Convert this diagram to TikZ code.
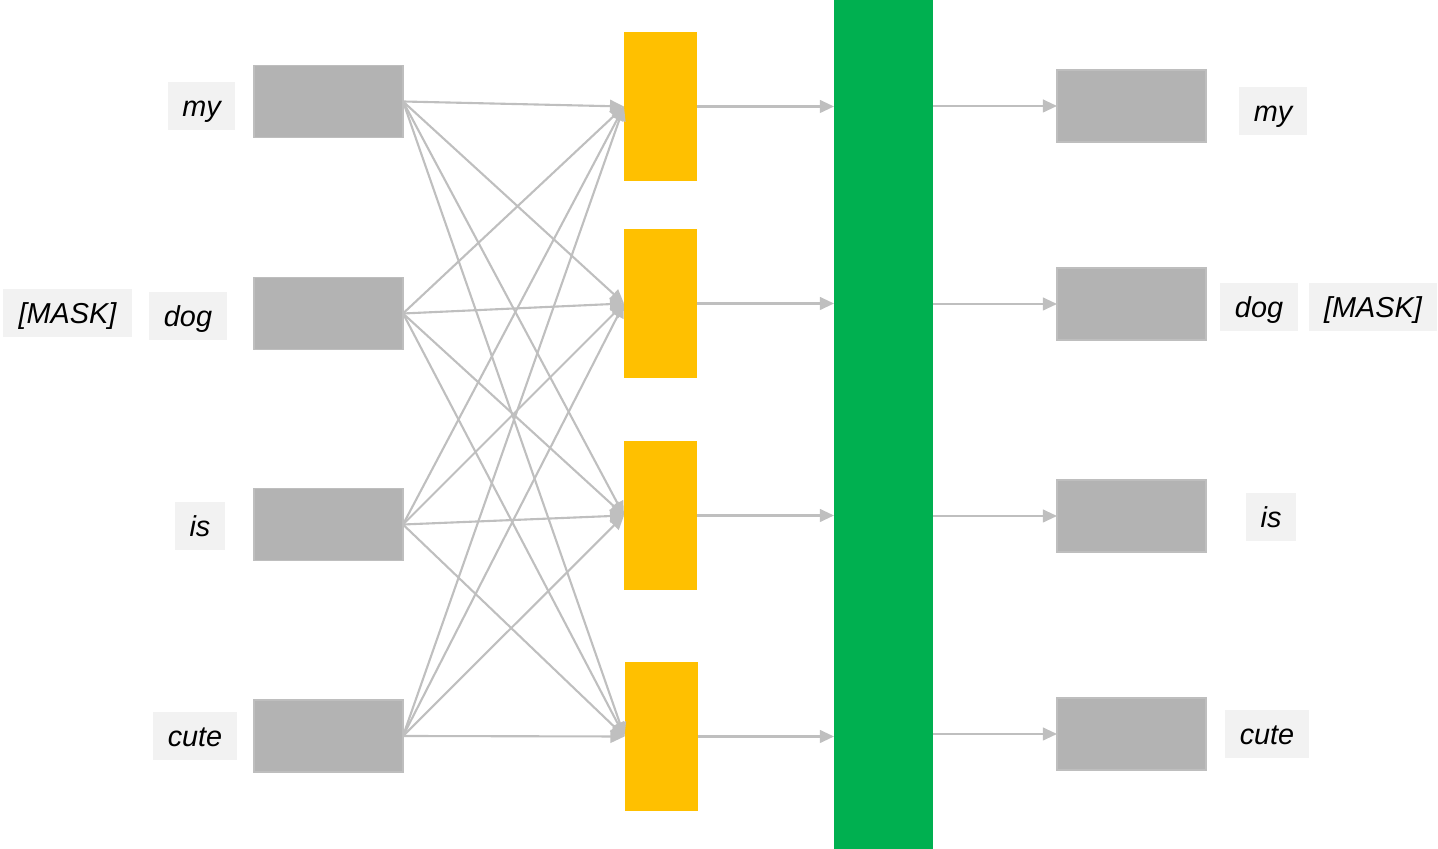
\documentclass[tikz,border=0pt]{standalone}
\usepackage{fontspec}
\setmainfont{Liberation Sans}
\usetikzlibrary{arrows.meta}

\definecolor{boxgray}{HTML}{B3B3B3}
\definecolor{labelgray}{HTML}{F2F2F2}
\definecolor{linkgray}{HTML}{BFBFBF}
\definecolor{hidyellow}{HTML}{FFC000}
\definecolor{encgreen}{HTML}{00B050}

\begin{document}
\begin{tikzpicture}[
    every node/.style={inner sep=0pt, outer sep=0pt},
    vecbox/.style={fill=boxgray, draw=boxgray!85, line width=0.3pt, minimum width=1.49cm, minimum height=0.72cm},
    hidbox/.style={fill=hidyellow, minimum width=0.73cm, minimum height=1.49cm},
    word/.style={fill=labelgray, font=\fontsize{8.2}{10}\selectfont\itshape, text height=5.7pt, text depth=0pt, minimum height=0.48cm},
    link/.style={draw=linkgray, line width=0.6pt, -{Triangle[length=4pt, width=3.6pt]}}
  ]
            \useasboundingbox (0,0) rectangle (14.38,8.49);

            % input vectors and hidden units
            \foreach \i/\y in {1/7.475, 2/5.355, 3/3.245, 4/1.13} {
                \node[vecbox] (E\i) at (3.285, \y) {};
            }
            \foreach \j/\x/\y in {1/6.605/7.425, 2/6.605/5.455, 3/6.605/3.335, 4/6.61/1.125} {
                \node[hidbox] (H\j) at (\x, \y) {};
            }
            \node[fill=encgreen, minimum width=0.99cm, minimum height=8.49cm] (T) at (8.835, 4.245) {};
            \foreach \k/\y in {1/7.43, 2/5.45, 3/3.33, 4/1.15} {
                \node[vecbox] (O\k) at (11.315, \y) {};
            }

            % words
            \node[word, minimum width=0.67cm] (w1) at (2.015, 7.43) {my};
            \node[word, minimum width=0.78cm] (w2) at (1.88, 5.33) {dog};
            \node[word, minimum width=1.29cm] (m2) at (0.675, 5.36) {[MASK]};
            \node[word, minimum width=0.50cm] (w3) at (2.0, 3.23) {is};
            \node[word, minimum width=0.84cm] (w4) at (1.95, 1.125) {cute};

            \node[word, minimum width=0.68cm] (v1) at (12.73, 7.38) {my};
            \node[word, minimum width=0.78cm] (v2) at (12.59, 5.415) {dog};
            \node[word, minimum width=1.28cm] (n2) at (13.73, 5.415) {[MASK]};
            \node[word, minimum width=0.50cm] (v3) at (12.71, 3.315) {is};
            \node[word, minimum width=0.84cm] (v4) at (12.67, 1.145) {cute};

            % connections
            \foreach \i in {1,...,4} {
                \foreach \j in {1,...,4} {
                    \draw[link] (E\i.east) -- (H\j.west);
                }
            }
            \foreach \j in {1,...,4} {
                \draw[link] (H\j.east) -- (H\j.east -| T.west);
            }
            \foreach \k in {1,...,4} {
                \draw[link] (T.east |- O\k.west) -- (O\k.west);
            }

        \end{tikzpicture}
\end{document}
